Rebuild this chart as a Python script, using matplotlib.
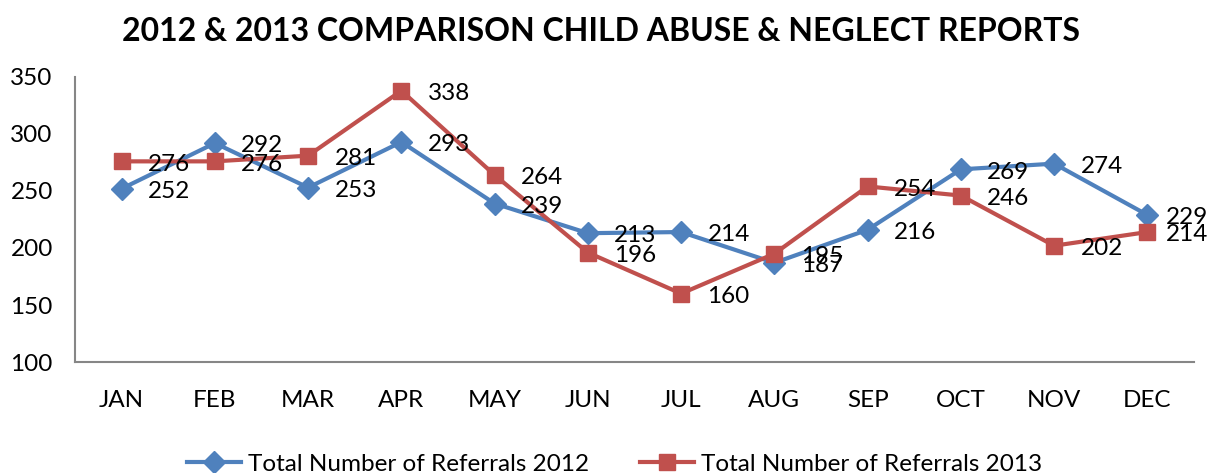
import matplotlib.pyplot as plt

months = ['JAN', 'FEB', 'MAR', 'APR', 'MAY', 'JUN', 'JUL', 'AUG', 'SEP', 'OCT', 'NOV', 'DEC']
referrals_2012 = [252, 292, 253, 293, 239, 213, 214, 187, 216, 269, 274, 229]
referrals_2013 = [276, 276, 281, 338, 264, 196, 160, 195, 254, 246, 202, 214]

plt.rcParams['font.family'] = ['Lato', 'DejaVu Sans']

fig = plt.figure(figsize=(12.1, 4.73), dpi=100)
ax = fig.add_axes([75 / 1210, 1 - 362 / 473, (1194 - 75) / 1210, (362 - 77) / 473])

x = list(range(len(months)))
ax.plot(x, referrals_2012, color='#4F81BD', lw=3, marker='D', ms=11,
        label='Total Number of Referrals 2012')
ax.plot(x, referrals_2013, color='#C0504D', lw=3, marker='s', ms=12,
        label='Total Number of Referrals 2013')

# labels sit to the right of each point; the last ones get pulled in to fit
for series in (referrals_2012, referrals_2013):
    for xi, v in zip(x, series):
        dx = 13 if xi == x[-1] else 19
        ax.annotate(str(v), (xi, v), xytext=(dx, -2), textcoords='offset points',
                    ha='left', va='center', fontsize=17.5, annotation_clip=False)

ax.set_xlim(-0.5, len(months) - 0.5)
ax.set_ylim(100, 350)
ax.set_yticks(range(100, 351, 50))
ax.set_xticks(x)
ax.set_xticklabels(months)
ax.tick_params(axis='both', length=0, labelsize=17.5)
ax.tick_params(axis='x', pad=20)
ax.tick_params(axis='y', pad=16)
ax.spines['top'].set_visible(False)
ax.spines['right'].set_visible(False)
ax.spines['left'].set_color('#868686')
ax.spines['bottom'].set_color('#868686')
ax.spines['left'].set_linewidth(1.5)
ax.spines['bottom'].set_linewidth(1.5)

fig.suptitle('2012 & 2013 COMPARISON CHILD ABUSE & NEGLECT REPORTS',
             fontsize=23, fontweight='bold', y=0.965, x=0.497)

fig.legend(loc='lower center', bbox_to_anchor=(0.508, -0.05), ncol=2, frameon=False,
           fontsize=17.5, handlelength=2.2, columnspacing=2.1, handletextpad=0.3)

fig.savefig('out.png', dpi=100)
